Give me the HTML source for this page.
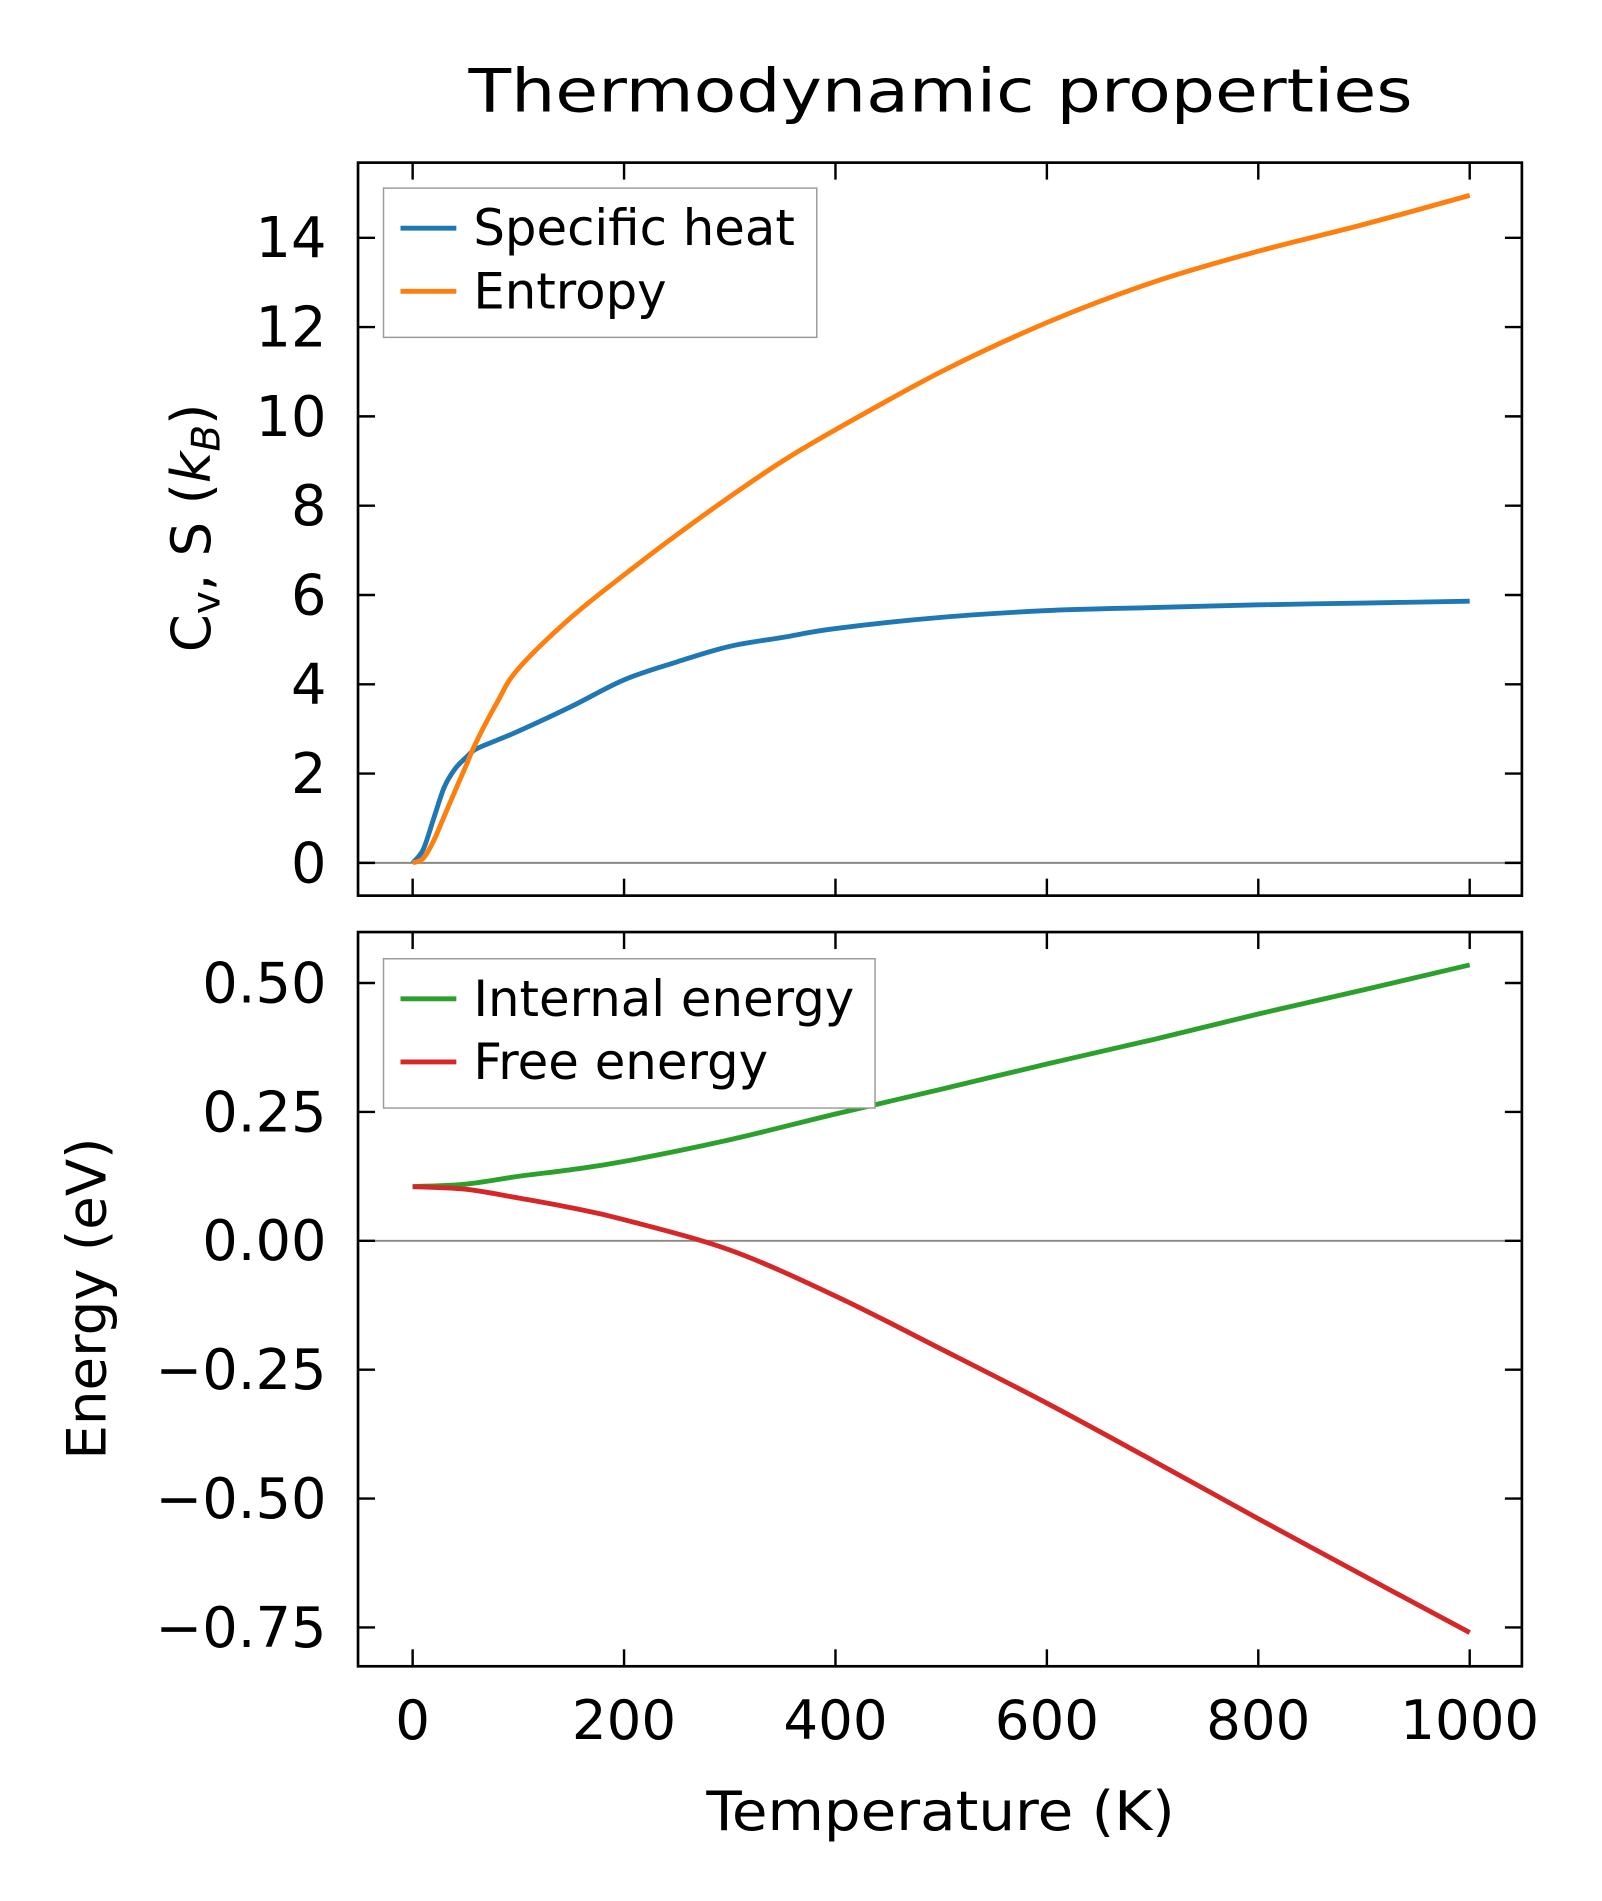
<!DOCTYPE html>
<html><head><meta charset="utf-8"><style>
html,body{margin:0;padding:0;background:#fff}
svg{display:block}
text{font-family:"DejaVu Sans","Liberation Sans",sans-serif;fill:#000}
</style></head><body>
<svg id="chart" width="1602" height="1901" viewBox="0 0 1320 1566.4" xmlns="http://www.w3.org/2000/svg">
<rect width="1320" height="1566.4" fill="#fff"/>
<text x="775" y="92" font-size="49" text-anchor="middle" textLength="778" lengthAdjust="spacingAndGlyphs">Thermodynamic properties</text>
<g id="topPanel"></g>
<g id="botPanel"></g>
<text x="775" y="1508" font-size="45" text-anchor="middle" textLength="386" lengthAdjust="spacingAndGlyphs">Temperature (K)</text>
<text transform="translate(173,435) rotate(-90)" font-size="45" text-anchor="middle">C<tspan font-size="32" dy="8">v</tspan><tspan dy="-8">, S (</tspan><tspan font-style="italic">k</tspan><tspan font-style="italic" font-size="32" dy="8">B</tspan><tspan dy="-8">)</tspan></text>
<text transform="translate(87,1070) rotate(-90)" font-size="45" text-anchor="middle">Energy (eV)</text>
</svg>
<script>
const temps=[0,10,20,30,40,50,60,80,100,150,200,250,300,350,400,500,600,700,800,900,1000];
const cv=[0,0.3,1.0,1.7,2.1,2.35,2.55,2.75,2.95,3.5,4.1,4.5,4.85,5.05,5.25,5.5,5.65,5.72,5.78,5.82,5.86];
const entropy=[0,0.1,0.5,1.05,1.6,2.15,2.7,3.6,4.35,5.5,6.45,7.35,8.2,9.0,9.7,11.0,12.1,13.0,13.7,14.3,14.95];
const eTemps=[0,50,100,150,200,300,400,500,600,700,800,900,1000];
const internalE=[0.105,0.11,0.125,0.138,0.154,0.196,0.246,0.294,0.343,0.39,0.44,0.487,0.535];
const freeE=[0.105,0.1,0.083,0.064,0.041,-0.018,-0.107,-0.21,-0.315,-0.426,-0.539,-0.65,-0.76];
const xTicks=[0,200,400,600,800,1000];
const topYTicks=[0,2,4,6,8,10,12,14];
const botYTicks=[0.5,0.25,0,-0.25,-0.5,-0.75];
const botYLabels=["0.50","0.25","0.00","\u22120.25","\u22120.50","\u22120.75"];
const NS="http://www.w3.org/2000/svg";
const X0=295,X1=1254;
const xs=t=>340+t*0.871;
const yTop=v=>711-v*36.79;
const yBot=v=>1022.4-v*424.8;
function mk(tag,attrs,parent){const e=document.createElementNS(NS,tag);for(const k in attrs)e.setAttribute(k,attrs[k]);parent.appendChild(e);return e;}
function panel(g,Y0,Y1,ys,yt,yl,ticksBottom){
  const z=mk('line',{x1:X0,x2:X1,y1:ys(0),y2:ys(0),stroke:'#888',"stroke-width":1.6},g);
  
  
  xTicks.forEach(t=>{
    const a=mk('line',{x1:xs(t),x2:xs(t),y1:Y1,y2:Y1-14,stroke:'#000',"stroke-width":2},g);
    
    
    const b=mk('line',{x1:xs(t),x2:xs(t),y1:Y0,y2:Y0+14,stroke:'#000',"stroke-width":2},g);
    
    
    if(ticksBottom){
      const l=mk('text',{x:xs(t),y:1433,"font-size":45,"text-anchor":"middle"},g);l.textContent=t;
      
      
    }
  });
  yt.forEach((v,i)=>{
    const a=mk('line',{x1:X0,x2:X0+14,y1:ys(v),y2:ys(v),stroke:'#000',"stroke-width":2},g);
    
    
    const b=mk('line',{x1:X1,x2:X1-14,y1:ys(v),y2:ys(v),stroke:'#000',"stroke-width":2},g);
    
    
    const l=mk('text',{x:269,y:ys(v)+16,"font-size":46,"text-anchor":"end"},g);l.textContent=yl[i];
    
    
  });
  const f=mk('rect',{x:X0,y:Y0,width:X1-X0,height:Y1-Y0,fill:'none',stroke:'#000',"stroke-width":2.2},g);
  
  
}
function series(g,tx,vals,ys,color,name){
  const P=tx.map((t,i)=>[xs(t),ys(vals[i])]);
  let d='M'+P[0][0].toFixed(1)+','+P[0][1].toFixed(1);
  for(let i=0;i<P.length-1;i++){
    const p0=P[Math.max(0,i-1)],p1=P[i],p2=P[i+1],p3=P[Math.min(P.length-1,i+2)];
    const c1=[p1[0]+(p2[0]-p0[0])/6,p1[1]+(p2[1]-p0[1])/6];
    const c2=[p2[0]-(p3[0]-p1[0])/6,p2[1]-(p3[1]-p1[1])/6];
    d+='C'+c1[0].toFixed(1)+','+c1[1].toFixed(1)+' '+c2[0].toFixed(1)+','+c2[1].toFixed(1)+' '+p2[0].toFixed(1)+','+p2[1].toFixed(1);
  }
  const p=mk('path',{d:d,fill:'none',stroke:color,"stroke-width":4,"stroke-linejoin":"round"},g);
  
  
}
function legend(g,x,y,w,h,items){
  const r=mk('rect',{x:x,y:y,width:w,height:h,fill:'#fff',stroke:'#999',"stroke-width":1.2},g);
  
  
  items.forEach((it,i)=>{
    const cy=y+33+i*52;
    const l=mk('line',{x1:x+14,x2:x+60,y1:cy,y2:cy,stroke:it[1],"stroke-width":4},g);
    
    
    const t=mk('text',{x:x+74,y:cy+14,"font-size":41},g);t.textContent=it[0];
    
    
  });
}
const topG=document.getElementById('topPanel');
const botG=document.getElementById('botPanel');
panel(topG,134,738,yTop,topYTicks,topYTicks.map(String),false);
series(topG,temps,cv,yTop,'#1f77b4','specific-heat-line');
series(topG,temps,entropy,yTop,'#ff7f0e','entropy-line');
legend(topG,316,155,357,123,[["Specific heat","#1f77b4"],["Entropy","#ff7f0e"]]);
panel(botG,768,1373,yBot,botYTicks,botYLabels,true);
series(botG,eTemps,internalE,yBot,'#2ca02c','internal-energy-line');
series(botG,eTemps,freeE,yBot,'#d62728','free-energy-line');
legend(botG,316,790,405,123,[["Internal energy","#2ca02c"],["Free energy","#d62728"]]);
</script>
</body></html>
